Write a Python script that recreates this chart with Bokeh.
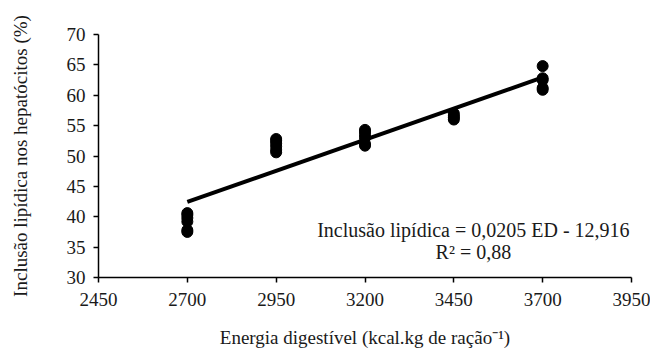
from bokeh.plotting import figure
from bokeh.models import Label, Range1d, FixedTicker
from bokeh.embed import file_html
from bokeh.resources import INLINE

# data
x_2700 = [2700] * 6
y_2700 = [37.5, 37.8, 39.2, 39.8, 40.3, 40.6]
x_2950 = [2950] * 6
y_2950 = [50.6, 51.0, 51.6, 52.1, 52.5, 52.8]
x_3200 = [3200] * 6
y_3200 = [51.7, 52.0, 53.0, 53.5, 54.0, 54.3]
x_3450 = [3450] * 4
y_3450 = [56.0, 56.3, 56.6, 57.0]
x_3700 = [3700] * 5
y_3700 = [60.9, 61.2, 62.5, 62.8, 64.8]
slope = 0.0205
intercept = -12.916
fit_x = [2700, 3700]
x_ticks = [2450, 2700, 2950, 3200, 3450, 3700, 3950]
y_ticks = [30, 35, 40, 45, 50, 55, 60, 65, 70]

xs = x_2700 + x_2950 + x_3200 + x_3450 + x_3700
ys = y_2700 + y_2950 + y_3200 + y_3450 + y_3700
fit_y = [slope * v + intercept for v in fit_x]

FONT = "Liberation Serif"
TXT = "#1a1a1a"

p = figure(width=650, height=350, output_backend="svg", toolbar_location=None,
           x_range=Range1d(2450, 3950), y_range=Range1d(30, 70),
           min_border_left=98, min_border_right=19, min_border_top=34, min_border_bottom=72)
p.outline_line_color = None
p.grid.grid_line_color = None

p.scatter(xs, ys, size=11, color="black")
p.line(fit_x, fit_y, line_width=4, color="black")

for ax in (p.xaxis, p.yaxis):
    ax.axis_line_color = "black"
    ax.axis_line_width = 1.5
    ax.major_tick_line_color = "black"
    ax.major_tick_line_width = 1.5
    ax.major_tick_out = 5
    ax.major_tick_in = 0
    ax.minor_tick_line_color = None
    ax.major_label_text_font = FONT
    ax.major_label_text_font_size = "19px"
    ax.major_label_text_color = TXT
    ax.axis_label_text_font = FONT
    ax.axis_label_text_font_size = "19px"
    ax.axis_label_text_font_style = "normal"
    ax.axis_label_text_color = TXT

p.xaxis.ticker = FixedTicker(ticks=x_ticks)
p.yaxis.ticker = FixedTicker(ticks=y_ticks)
p.xaxis.major_label_standoff = 10
p.yaxis.major_label_standoff = 8
p.xaxis.axis_label = "Energia digestível (kcal.kg de ração\u207b\u00b9)"
p.yaxis.axis_label = "Inclusão lipídica nos hepatócitos (%)"
p.xaxis.axis_label_standoff = 18
p.yaxis.axis_label_standoff = 33

eq = Label(x=3505, y=37.8, text="Inclusão lipídica = 0,0205 ED - 12,916",
           text_font=FONT, text_font_size="20px", text_align="center",
           text_baseline="alphabetic", text_color=TXT)
r2 = Label(x=3505, y=34.2, text="R\u00b2 = 0,88",
           text_font=FONT, text_font_size="20px", text_align="center",
           text_baseline="alphabetic", text_color=TXT)
p.add_layout(eq)
p.add_layout(r2)

open("out.html", "w").write(file_html(p, INLINE))
